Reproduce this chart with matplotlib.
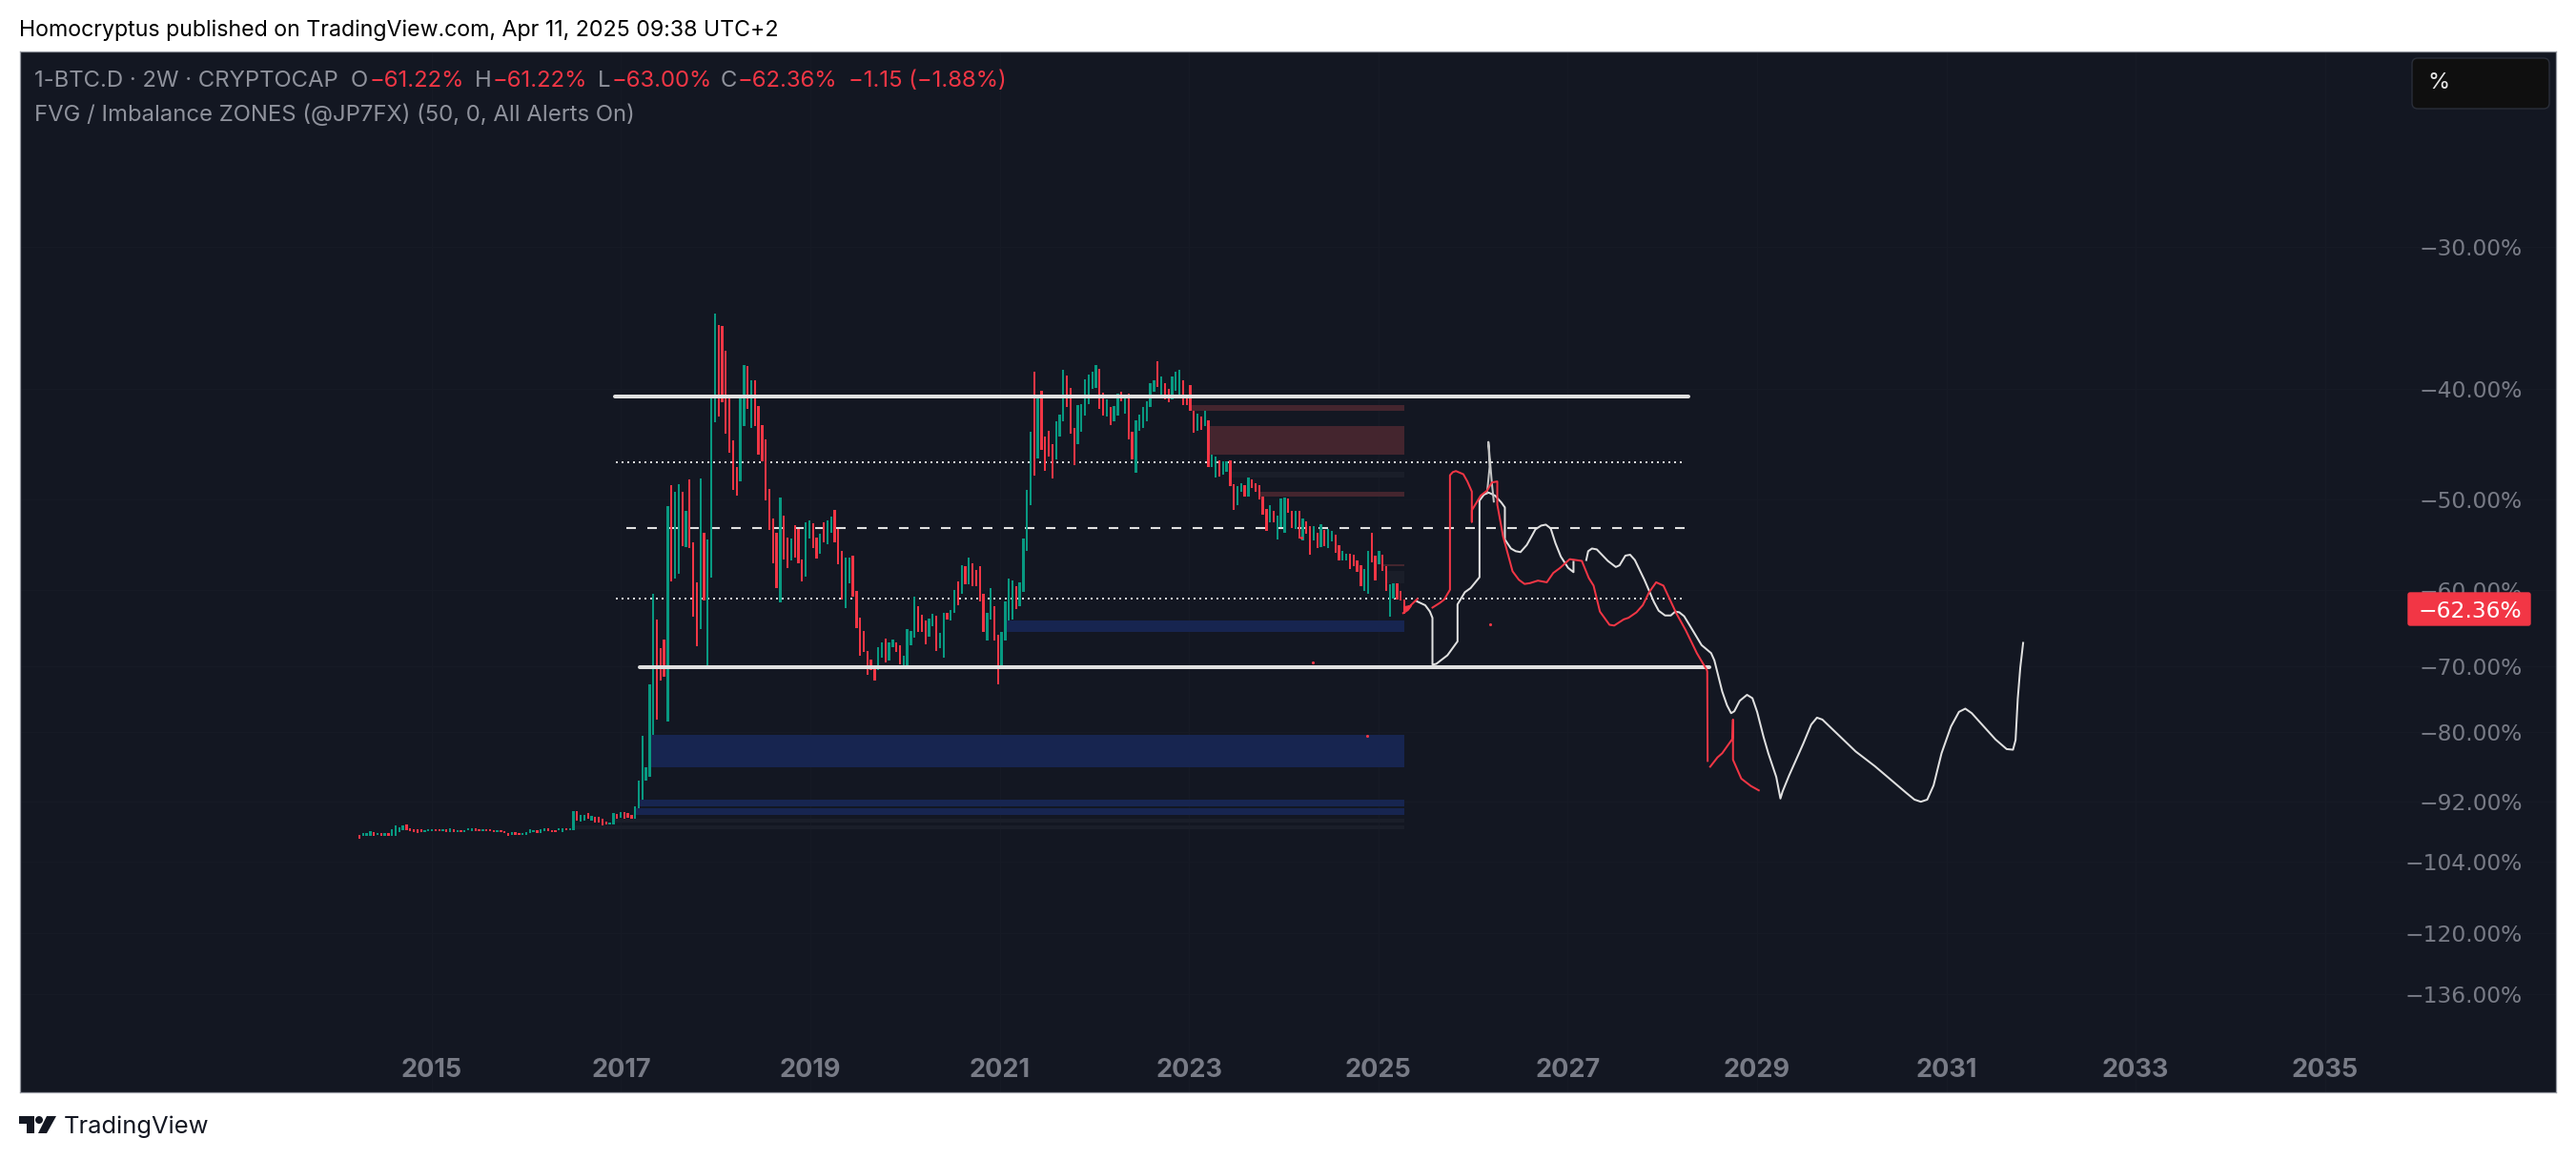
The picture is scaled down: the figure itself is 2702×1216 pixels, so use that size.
import numpy as np
import matplotlib
matplotlib.use("Agg")
import matplotlib.pyplot as plt
from matplotlib.patches import Rectangle, FancyBboxPatch, Polygon, Circle
from matplotlib.transforms import Affine2D

W, H = 2702, 1216
plt.rcParams["lines.scale_dashes"] = False
plt.rcParams["font.family"] = ["Inter", "DejaVu Sans"]

# ---- candles: 2W bars of 1-BTC.D, percent below zero (bar bodies)
first_bar_year = 2014.235
bar_step_days = 14
bar_side = ("RGGGRGRGRG" "GGGRRRRRGG" "GRRGRGRGRG" "GGRRGRRRGR" "RRGRRGGGGR" "GGRRRGGRGG"
            "RGGRGRRRRG" "GRGRRRGGGG" "GGRRRGRGGR" "GRRRGRGGGR" "RRRRRGGRGR" "RRRRRRGRRG"
            "RRRGGRRGRG" "GRRRGGRRRR" "RRRGGRGGRR" "GGGGRRRGGR" "GGRGGRGRGR" "RRRGGRRGGG"
            "GRGGGGRGRR" "RRGGGRRRGG" "GGGGRRGRGG" "RGRRGGGGGG" "RGRRGGGRRR" "RGRGRGGRGG"
            "RRGGRGRRRR" "RGRGGGRRGR" "GRRGRGRGGR" "RGGRRRRGGR" "RGRRGGRRR")
bar_upper = [98.4,98.2,98.2,97.7,97.9,98.1,98.1,98.2,98.2,97.3,
             96.7,96.9,96.7,96.5,97.1,97.3,97.3,97.3,97.5,97.3,
             97.3,97.3,97.3,97.3,97.3,97.1,97.3,97.5,97.5,97.5,
             97.1,97.1,97.1,97.3,97.3,97.3,97.3,97.5,97.5,97.5,
             97.7,98.1,97.9,97.9,98.1,98.1,97.9,97.3,97.5,97.5,
             97.3,97.1,97.1,97.5,97.5,97.1,97.1,97.1,97.1,93.8,
             93.8,94.5,94.5,94.2,94.7,94.9,94.9,95.4,95.8,96.0,
             94.2,94.4,94.0,94.0,94.2,94.5,92.9,88.2,80.6,85.9,
             72.6,60.5,63.7,67.5,66.3,50.7,48.6,49.2,48.5,49.2,
             51.2,48.0,54.5,59.1,47.9,53.5,54.2,40.7,34.3,35.1,
             35.2,37.0,40.6,44.4,46.8,40.7,38.1,38.2,39.3,39.3,
             41.4,43.0,44.3,48.9,52.0,53.5,49.8,51.7,54.0,54.1,
             52.7,53.1,56.4,52.4,52.2,52.5,54.0,53.6,52.4,52.2,
             51.8,51.1,53.1,55.5,56.2,56.2,56.0,60.2,63.5,65.2,
             67.9,69.1,70.2,67.4,66.8,66.2,66.7,66.3,66.7,67.1,
             68.5,65.0,65.2,60.9,62.0,63.1,63.9,63.6,63.0,63.2,
             65.5,62.9,62.9,62.5,60.0,59.0,57.1,57.2,56.2,56.9,
             57.7,57.2,60.5,62.9,59.8,62.0,65.7,65.3,61.4,58.6,
             58.9,59.6,59.1,54.1,49.0,43.6,38.6,40.6,40.1,44.0,
             43.5,44.7,42.7,42.1,38.5,38.9,39.9,43.3,41.3,41.2,
             39.2,38.8,38.6,38.1,38.4,40.3,40.8,41.5,41.4,40.4,
             40.2,40.5,40.4,43.6,42.6,42.1,41.5,41.0,39.5,39.3,
             37.8,39.0,39.5,40.0,39.0,38.6,38.5,39.3,40.7,39.7,
             41.8,42.0,42.3,41.8,42.6,45.7,45.8,46.2,46.3,46.3,
             46.2,48.5,48.7,48.4,48.6,47.8,48.0,48.4,48.6,49.7,
             51.0,50.6,51.2,51.7,49.9,49.8,49.9,51.2,51.2,51.2,
             52.0,52.3,52.8,52.8,53.5,52.6,53.2,53.1,53.3,53.7,
             54.8,55.5,55.8,55.8,55.9,56.6,57.1,57.5,55.5,53.5,
             56.0,55.5,55.9,57.2,59.3,59.2,59.2,60.2,61.2]
bar_lower = [99.2,98.6,98.6,98.6,98.6,98.4,98.6,98.6,98.6,98.6,
             98.6,97.9,97.5,97.5,97.7,97.9,98.1,97.9,97.9,97.7,
             97.7,97.7,97.7,97.7,97.9,97.9,97.9,97.9,97.9,97.9,
             97.5,97.7,97.7,97.7,97.7,97.7,97.7,97.9,97.9,97.9,
             98.1,98.6,98.4,98.4,98.4,98.4,98.4,98.1,97.9,98.1,
             98.1,97.7,97.7,97.9,97.9,97.5,97.9,97.5,97.5,97.5,
             95.6,95.8,95.6,95.4,95.6,96.0,96.0,96.7,96.5,96.5,
             96.5,95.3,95.1,95.4,95.1,95.4,95.4,93.4,91.8,88.3,
             87.6,80.5,78.0,72.1,71.5,78.3,59.0,58.6,58.1,54.9,
             55.0,55.1,63.3,67.2,65.0,61.3,70.3,58.5,42.8,42.3,
             41.1,43.8,45.5,49.0,49.6,48.2,43.1,41.6,43.3,43.1,
             45.7,46.3,50.1,53.2,56.9,59.8,61.5,56.4,57.4,56.6,
             56.2,56.9,59.0,58.4,54.1,55.2,56.3,55.8,54.5,54.7,
             53.5,54.5,57.0,61.2,62.3,59.2,60.8,64.8,68.5,68.0,
             71.2,70.6,72.1,70.6,68.8,69.5,69.2,67.4,68.0,69.8,
             69.9,69.9,67.1,66.1,65.3,65.4,67.0,66.0,64.6,67.9,
             67.5,68.8,63.7,63.8,62.9,61.9,60.5,59.3,59.3,59.6,
             59.6,61.4,65.4,66.5,63.7,66.5,72.6,70.5,66.5,63.8,
             63.7,62.4,62.0,60.3,55.5,50.6,47.6,46.0,45.2,47.2,
             45.8,47.9,46.1,44.0,42.7,41.5,43.8,46.6,44.7,43.6,
             42.2,41.2,40.0,39.9,41.6,42.2,42.3,43.0,42.7,42.2,
             41.0,42.0,44.3,46.1,47.4,43.5,43.3,42.7,41.5,40.2,
             39.8,40.6,40.8,41.1,40.8,40.1,40.6,41.3,41.3,41.8,
             43.7,43.5,43.4,43.1,46.8,46.8,47.8,47.7,47.5,47.3,
             48.7,51.1,50.6,49.2,49.7,49.7,48.8,49.2,50.0,51.6,
             53.3,52.4,52.4,54.2,52.9,53.5,51.4,53.0,53.1,54.1,
             54.3,53.6,55.9,54.3,55.1,55.0,54.9,55.2,54.4,55.7,
             56.6,56.6,56.6,57.5,57.2,57.9,59.6,60.1,60.5,56.8,
             58.9,57.0,57.8,60.2,63.3,61.1,61.2,61.3,63.0]
last_close = 62.36

# ---- horizontal levels: value, start year, end year
solid_levels = [(40.6, 2016.93, 2028.27), (70.2, 2017.20, 2028.50)]
dotted_levels = [(46.35, 2016.94, 2028.22), (61.1, 2016.94, 2028.22)]
dashed_levels = [(53.0, 2017.06, 2028.25)]

# ---- FVG zones: upper, lower, start year (all end at the same year)
zone_end = 2025.27
blue_zones = [(63.8, 65.3, 2021.07), (80.5, 85.9, 2017.30), (91.8, 92.9, 2017.20), (93.4, 94.5, 2017.15)]
red_zones = [(41.3, 41.8, 2023.02), (43.1, 45.7, 2023.21), (49.2, 49.7, 2023.74), (57.0, 57.2, 2025.04)]
faint_zones = [(47.3, 47.8, 2023.43), (57.8, 59.2, 2025.08), (95.4, 96.0, 2016.91), (96.7, 97.3, 2016.50)]

# ---- hand-drawn forecast strokes
white_a_t = [2025.403,2025.494,2025.544,2025.571,2025.571,2025.611,2025.729,2025.836,2025.836,2025.913,2025.974,2026.068,
             2026.068,2026.115,2026.165,2026.232,2026.299,2026.336,2026.336,2026.400,2026.450,2026.501,2026.568,2026.659,
             2026.719,2026.769,2026.820,2026.870,2026.927,2027.004,2027.061,2027.061]
white_a_v = [61.4,61.9,62.7,63.5,69.8,69.7,68.5,66.6,61.8,60.3,59.8,58.5,
             50.1,49.5,49.3,49.6,50.3,50.8,54.2,55.2,55.5,55.6,54.8,53.1,
             52.7,52.6,53.0,54.6,56.1,57.4,57.9,56.7]
white_b_t = [2027.196,2027.216,2027.256,2027.307,2027.424,2027.508,2027.548,2027.609,2027.659,2027.709,2027.810,2027.911,
             2027.961,2028.028,2028.089,2028.136,2028.179,2028.230,2028.314,2028.414,2028.515,2028.549,2028.632,2028.683,
             2028.726,2028.760,2028.817,2028.894,2028.951,2029.001,2029.069,2029.119,2029.203,2029.247,2029.270,2029.337,
             2029.488,2029.572,2029.633,2029.690,2030.042,2030.244,2030.579,2030.663,2030.730,2030.798,2030.865,2030.949,
             2031.049,2031.133,2031.200,2031.268,2031.519,2031.637,2031.704,2031.731,2031.754,2031.781,2031.811]
white_b_v = [56.5,55.5,55.2,55.3,56.6,57.3,57.1,56.0,55.9,56.5,58.8,61.5,
             62.6,63.2,63.2,62.7,62.8,63.3,65.0,67.1,68.2,69.2,73.7,75.8,
             77.0,76.7,75.1,74.2,74.7,76.8,80.8,83.5,87.6,91.5,90.2,87.4,
             81.9,78.8,77.7,78.0,83.2,85.7,90.5,91.7,92.1,91.7,89.1,83.5,
             79.1,76.8,76.3,77.0,81.2,82.8,82.9,81.3,74.8,70.2,66.8]
spike_t = [2026.148,2026.175,2026.162,2026.182,2026.199,2026.219]
spike_v = [49.3,46.8,44.5,46.5,48.4,50.2]
red_a_t = [2025.262,2025.312,2025.343,2025.292,2025.292,2025.343,2025.413]
red_a_v = [62.9,62.5,62.0,62.1,62.5,61.9,61.1]
red_b_t = [2025.571,2025.651,2025.695,2025.756,2025.756,2025.786,2025.819,2025.897,2025.940,2025.987,2025.987,2025.987,
           2026.081,2026.148,2026.199,2026.256,2026.256,2026.316,2026.417,2026.484,2026.544,2026.601,2026.685,2026.779,
           2026.847,2026.920,2027.021,2027.149,2027.223,2027.273,2027.340,2027.441,2027.491,2027.592,2027.642,2027.726,
           2027.793,2027.860,2027.934,2028.011,2028.146,2028.246,2028.364,2028.471,2028.474,2028.478]
red_b_v = [62.2,61.6,61.2,60.0,47.6,47.3,47.2,47.5,48.2,49.2,52.3,51.1,
           49.6,49.1,48.3,48.2,50.5,53.8,57.8,58.8,59.3,59.2,58.9,59.1,
           58.0,57.4,56.4,56.6,58.6,59.5,62.7,64.4,64.5,63.7,63.5,62.8,
           61.9,60.3,59.1,59.5,62.9,65.1,68.2,70.6,70.8,84.8]
red_c_t = [2028.505,2028.582,2028.632,2028.740,2028.746,2028.746,2028.834,2028.934,2029.018]
red_c_v = [85.8,84.2,83.5,81.1,78.0,84.6,87.9,89.2,90.0]
dot_t = [2024.305,2024.879,2024.184,2026.178]
dot_v = [69.5,80.6,54.0,64.3]

price_ticks = [30, 40, 50, 60, 70, 80, 92, 104, 120, 136]
year_ticks = [2015, 2017, 2019, 2021, 2023, 2025, 2027, 2029, 2031, 2033, 2035]

BG = "#131722"; RED = "#f23645"; GREEN = "#089981"; STROKE = "#e0e0e0"
GRAY = "#787b86"; LEG = "#8f929c"

fig = plt.figure(figsize=(W / 100, H / 100), dpi=100, facecolor="white")
L, R, T, B = 21, 2681, 54, 1146
ax = fig.add_axes([L / W, 1 - B / H, (R - L) / W, (B - T) / H], facecolor=BG)
px = Affine2D().scale(1, -1).translate(0, H)

ax.set_yscale("function", functions=(lambda v: -np.log(np.maximum(np.abs(v), 1e-6)),
                                     lambda u: -np.exp(-u)))

for v, a, b in solid_levels:
    ax.plot([a, b], [-v, -v], color=STROKE, lw=2.9, solid_capstyle="round", zorder=3.2)
for v, a, b in dotted_levels:
    ax.plot([a, b], [-v, -v], color=STROKE, lw=1.44, ls=(0, (1.44, 2.88)), dash_capstyle="butt", zorder=2.2)
for v, a, b in dashed_levels:
    ax.plot([a, b], [-v, -v], color=STROKE, lw=1.5, ls=(0, (7.2, 8.64)), dash_capstyle="butt", zorder=2.2)

def zones(items, color):
    for u, l, a in items:
        ax.add_patch(Rectangle((a, -l), zone_end - a, l - u, fc=color, ec="none", zorder=1.5))
zones(blue_zones, "#172550")
zones(red_zones, "#44252e")
zones(faint_zones, "#1a1e29")

n = len(bar_upper)
bx = first_bar_year + np.arange(n) * bar_step_days / 365.25
up = np.array(bar_upper); lo = np.array(bar_lower)
cols = [GREEN if s == "G" else RED for s in bar_side[:n]]
ax.bar(bx, lo[:n] - up[:n], bottom=-lo[:n], width=2.3 / 99.3, color=cols, lw=0, zorder=3)

for t, v, c in [(white_a_t, white_a_v, STROKE), (white_b_t, white_b_v, STROKE), (spike_t, spike_v, "#c4c4c4"),
                (red_a_t, red_a_v, RED), (red_b_t, red_b_v, RED), (red_c_t, red_c_v, RED)]:
    ax.plot(t, -np.array(v), color=c, lw=1.45, solid_joinstyle="round", zorder=3.5)
ax.scatter(dot_t, -np.array(dot_v), s=5, color=RED, lw=0, zorder=3.6)

ax.set_xlim(2010.65, 2037.44)
ax.set_ylim(-165.7, -20.21)

ax.set_xticks(year_ticks)
ax.set_xticklabels([str(y) for y in year_ticks], fontsize=19.5, fontweight="bold", color=GRAY)
ax.tick_params(axis="x", length=0, pad=-26)
ax.yaxis.tick_right()
ax.set_yticks([-p for p in price_ticks])
ax.set_yticklabels(["\u2212%.2f%%" % p for p in price_ticks], fontsize=16.8, color=GRAY, ha="right",
                   fontfamily="DejaVu Sans")
ax.minorticks_off()
ax.tick_params(axis="y", length=0, pad=-25.5)
ax.grid(True, color="#171b26", lw=0.7, zorder=0)
ax.set_axisbelow(True)
for s in ax.spines.values():
    s.set_color("#9598a1"); s.set_linewidth(0.9)

# price tag
ax.add_patch(FancyBboxPatch((2526, 622), 128, 34, boxstyle="round,pad=0,rounding_size=2", transform=px,
                            fc=RED, ec=RED, lw=1, zorder=5, clip_on=False))
ax.text(2645.5, 639, "\u2212%.2f%%" % last_close, transform=px, ha="right", va="center_baseline", fontsize=16.8, color="white",
        fontfamily="DejaVu Sans", zorder=6)
# scale button
ax.add_patch(FancyBboxPatch((2530, 61), 144, 53, boxstyle="round,pad=0,rounding_size=6", transform=px,
                            fc="#0f0f0f", ec="#2a2e39", lw=1, zorder=5, clip_on=False))
ax.text(2558, 87, "%", transform=px, ha="center", va="center", fontsize=17, color="#e8e8e8", zorder=6)

def ftext(x, y, s, color="black", size=17.2, **kw):
    fig.text(x / W, 1 - y / H, s, color=color, fontsize=size, va="center", **kw)

ftext(20, 32, "Homocryptus published on TradingView.com, Apr 11, 2025 09:38 UTC+2", size=16.7)
ftext(36, 85, "1-BTC.D \u00b7 2W \u00b7 CRYPTOCAP", LEG, zorder=10)
for x, s, c in [(368, "O", LEG), (388, "\u221261.22%", RED), (498, "H", LEG), (517, "\u221261.22%", RED),
                (627, "L", LEG), (642, "\u221263.00%", RED), (756, "C", LEG), (774, "\u221262.36%", RED),
                (890, "\u22121.15 (\u22121.88%)", RED)]:
    ftext(x, 85, s, c, zorder=10)
ftext(36, 120, "FVG / Imbalance ZONES (@JP7FX) (50, 0, All Alerts On)", LEG, zorder=10)

# TradingView logo and name
fig.add_artist(Polygon([(20, 1171), (36, 1171), (36, 1189), (28, 1189), (28, 1179), (20, 1179)], transform=px, fc="#131722", ec="none"))
fig.add_artist(Circle((41, 1175), 4, transform=px, fc="#131722", ec="none"))
fig.add_artist(Polygon([(49, 1171), (59, 1171), (49, 1189), (40, 1189)], transform=px, fc="#131722", ec="none"))
ftext(67, 1182, "TradingView", "#131722", size=18.4)

fig.savefig("out.png", dpi=100, facecolor="white")
